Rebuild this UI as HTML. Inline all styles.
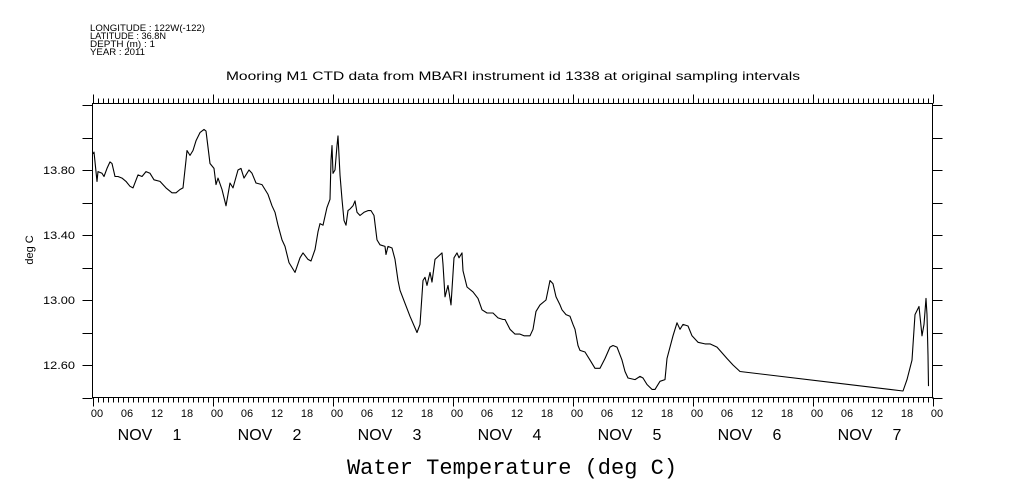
<!DOCTYPE html>
<html><head><meta charset="utf-8"><style>
html,body{margin:0;padding:0;background:#fff;}
svg{display:block;font-family:"Liberation Sans",sans-serif;}
</style></head><body>
<svg id="chart" width="1009" height="504" viewBox="0 0 1009 504" xmlns="http://www.w3.org/2000/svg">
<g font-size="9" fill="#000">
<text x="90" y="31" textLength="115" lengthAdjust="spacingAndGlyphs">LONGITUDE : 122W(-122)</text>
<text x="90" y="39" textLength="76" lengthAdjust="spacingAndGlyphs">LATITUDE : 36.8N</text>
<text x="90" y="47" textLength="65" lengthAdjust="spacingAndGlyphs">DEPTH (m) : 1</text>
<text x="90" y="55" textLength="55" lengthAdjust="spacingAndGlyphs">YEAR : 2011</text>
</g>
<text x="226" y="80" textLength="574" lengthAdjust="spacingAndGlyphs" font-size="12">Mooring M1 CTD data from MBARI instrument id 1338 at original sampling intervals</text>
<text x="0" y="0" transform="translate(33,250) rotate(-90)" text-anchor="middle" font-size="11">deg C</text>
<text x="512" y="474" text-anchor="middle" font-size="22" font-family="Liberation Mono, monospace">Water Temperature (deg C)</text>
<rect x="92.5" y="103.5" width="840" height="294" fill="none" stroke="#000" stroke-width="1"/>
<g id="axes" stroke="#000" stroke-width="1" shape-rendering="crispEdges"></g>
<g id="labels" font-size="11" fill="#000"></g>
<path id="series" fill="none" stroke="#000" stroke-width="1.1" stroke-linejoin="round"/>
</svg>
<script>
const hours = [0,0.2,0.8,1.0,1.8,2.2,2.8,3.4,3.8,4.4,5.0,5.8,6.6,7.4,8.0,9.0,9.8,10.6,11.4,12.2,13.4,14.6,15.8,16.6,17.4,18.0,18.6,18.8,19.4,20.0,20.6,21.4,22.2,22.6,23.4,24.2,24.6,25.0,25.8,26.6,27.4,28.0,29.0,29.6,30.2,31.2,31.8,32.6,33.8,35.0,35.8,36.4,37.0,37.8,38.4,39.2,40.4,41.4,42.0,43.0,43.6,44.4,45.0,45.4,46.0,46.8,47.4,47.6,47.8,48.0,48.4,48.8,49.0,49.4,49.8,50.2,50.6,51.0,51.4,52.0,52.4,52.8,53.4,54.2,55.0,55.6,56.2,56.8,57.4,58.4,58.6,59.0,59.8,60.4,61.0,61.4,63.4,64.8,65.4,66.0,66.4,66.8,67.4,67.8,68.4,69.8,70.0,70.4,71.0,71.6,72.2,72.8,73.2,73.8,74.0,74.8,76.0,77.0,77.8,78.8,80.0,81.0,82.0,82.4,83.4,84.4,85.4,86.2,87.4,88.0,88.6,89.4,90.6,91.0,91.4,92.0,92.6,93.4,93.8,94.6,95.4,96.0,96.4,97.0,97.4,98.4,99.4,100.4,101.4,102.4,103.4,104.0,104.8,105.8,106.4,107.0,108.4,109.4,110.0,110.8,111.8,112.4,113.4,114.4,114.8,115.4,116.0,116.8,117.4,118.0,119.0,119.8,121.0,122.4,123.4,124.8,126.8,128.0,129.4,162.0,162.8,163.8,164.4,165.2,165.8,166.2,166.6,166.8,167.0,167.1];
const temps = [13.90,13.91,13.73,13.79,13.78,13.76,13.81,13.85,13.84,13.76,13.76,13.75,13.73,13.70,13.69,13.77,13.76,13.79,13.78,13.74,13.73,13.69,13.66,13.66,13.68,13.69,13.86,13.92,13.89,13.92,13.98,14.03,14.05,14.04,13.84,13.81,13.71,13.75,13.68,13.58,13.72,13.69,13.80,13.81,13.75,13.80,13.78,13.72,13.71,13.65,13.58,13.54,13.46,13.37,13.33,13.23,13.17,13.26,13.29,13.25,13.24,13.31,13.42,13.47,13.46,13.57,13.62,13.86,13.95,13.78,13.80,13.95,14.01,13.77,13.62,13.49,13.46,13.55,13.56,13.58,13.61,13.54,13.52,13.54,13.55,13.55,13.52,13.37,13.34,13.33,13.28,13.33,13.32,13.25,13.12,13.06,12.90,12.80,12.85,13.12,13.14,13.09,13.17,13.11,13.25,13.29,13.22,13.02,13.09,12.97,13.26,13.29,13.26,13.29,13.18,13.08,13.05,13.01,12.94,12.92,12.92,12.89,12.88,12.88,12.82,12.79,12.79,12.78,12.78,12.82,12.93,12.97,13.00,13.06,13.12,13.10,13.02,12.97,12.94,12.91,12.90,12.85,12.82,12.72,12.69,12.68,12.63,12.58,12.58,12.64,12.71,12.72,12.71,12.63,12.56,12.52,12.51,12.53,12.52,12.48,12.45,12.45,12.50,12.51,12.64,12.71,12.78,12.86,12.82,12.85,12.84,12.78,12.74,12.73,12.73,12.71,12.64,12.60,12.56,12.44,12.51,12.63,12.91,12.96,12.78,12.85,13.01,12.91,12.66,12.47];
const yTickValues = [12.40,12.60,12.80,13.00,13.20,13.40,13.60,13.80,14.00,14.20];
const yLabelValues = ["12.60","13.00","13.40","13.80"];
const hourLabels = ["00","06","12","18"];
const dayLabels = ["NOV  1","NOV  2","NOV  3","NOV  4","NOV  5","NOV  6","NOV  7"];

const X0=93, PX_PER_HOUR=5, Y_REF=13.80, Y_REF_PX=170, PX_PER_DEG=162.5;
const PLOT_TOP=103.5, PLOT_BOT=397.5, PLOT_L=92.5, PLOT_R=932.5;
function xs(h){return X0+h*PX_PER_HOUR;}
function ys(t){return Y_REF_PX-(t-Y_REF)*PX_PER_DEG;}
const NS="http://www.w3.org/2000/svg";
const axes=document.getElementById('axes'), labels=document.getElementById('labels');
function line(x1,y1,x2,y2,name){
  const l=document.createElementNS(NS,'line');
  l.setAttribute('x1',x1);l.setAttribute('y1',y1);l.setAttribute('x2',x2);l.setAttribute('y2',y2);
  
  
  axes.appendChild(l);
}
function text(x,y,s,name,size){
  const t=document.createElementNS(NS,'text');
  t.setAttribute('x',x);t.setAttribute('y',y);t.setAttribute('text-anchor','middle');
  if(size) t.setAttribute('font-size',size);
  t.textContent=s;
  
  
  labels.appendChild(t);
}
const totalHours=dayLabels.length*24;
for(let h=0;h<=totalHours;h++){
  const x=Math.round(xs(h))+0.5;
  const major=(h%24===0);
  line(x,PLOT_BOT,x,PLOT_BOT+(major?9:5),'x-tick-bottom');
  line(x,PLOT_TOP,x,PLOT_TOP-(major?9:5),'x-tick-top');
  if(h%6===0) text(xs(h)+4,417,hourLabels[(h/6)%4],'x-tick-label');
}
dayLabels.forEach((d,i)=>{
  const n=d.split(/\s+/);
  text(xs(i*24+12)-18,440,n[0],'day-label-month',16);
  text(xs(i*24+12)+24,440,n[1],'day-label-day',16);
});
yTickValues.forEach(v=>{
  const y=Math.round(ys(v))+0.5;
  if(y<PLOT_TOP-1||y>PLOT_BOT+1) return;
  line(PLOT_L-10,y,PLOT_L,y,'y-tick-left');
  line(PLOT_R,y,PLOT_R+10,y,'y-tick-right');
});
yLabelValues.forEach(s=>{
  const t=document.createElementNS(NS,'text');
  t.setAttribute('x',43);t.setAttribute('y',ys(parseFloat(s))+4);
  t.setAttribute('textLength',32);t.setAttribute('lengthAdjust','spacingAndGlyphs');
  t.textContent=s;
  
  
  labels.appendChild(t);
});
let d='';
hours.forEach((h,i)=>{d+=(i?'L':'M')+xs(h).toFixed(1)+','+ys(temps[i]).toFixed(1);});
document.getElementById('series').setAttribute('d',d);
</script>
</body></html>
